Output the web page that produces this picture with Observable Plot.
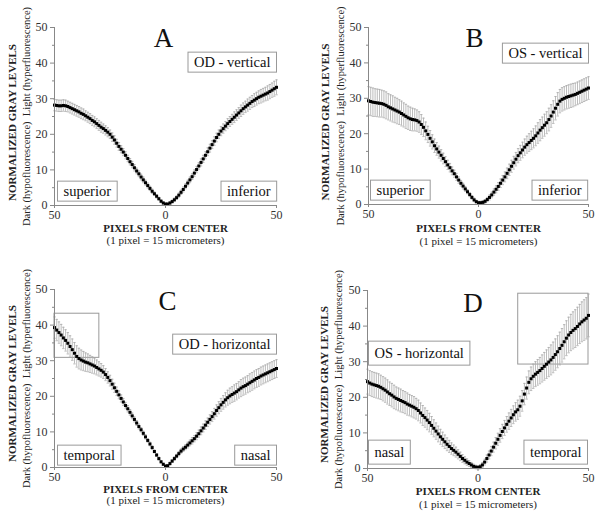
<!DOCTYPE html>
<html><head><meta charset="utf-8">
<script src="https://cdn.jsdelivr.net/npm/d3@7"></script>
<script src="https://cdn.jsdelivr.net/npm/@observablehq/plot@0.6"></script>
<style>
body{margin:0;background:#fff;}
#root{position:relative;width:600px;height:517px;overflow:hidden;background:#fff;}
.panel{position:absolute;}
.panel svg, .panel svg text{font-family:'Liberation Serif','Times New Roman',serif !important;}
</style></head><body><div id="root"></div>
<script>
// ---- data ----
const pixels = d3.range(-50, 51); // pixels from center, left side = -50
const xDomain = [-50, 50];
const yDomain = [0, 50];
const xTicks = [-50, 0, 50];
const yTicks = [0, 10, 20, 30, 40, 50];
const yMinorTicks = [5, 15, 25, 35, 45];

const panelLetters = ["A", "B", "C", "D"];
const eyeLabels = ["OD - vertical", "OS - vertical", "OD - horizontal", "OS - horizontal"];
const leftRegions = ["superior", "superior", "temporal", "nasal"];
const rightRegions = ["inferior", "inferior", "nasal", "temporal"];
const yTitle = "NORMALIZED GRAY LEVELS";
const ySubtitle = "Dark (hypofluorescence)\u00a0\u00a0Light (hyperfluorescence)";
const xTitle = "PIXELS FROM CENTER";
const xSubtitle = "(1 pixel = 15 micrometers)";

const odVertical = [
  28.2,28.1,28.0,28.0,28.1,28.0,27.8,27.5,27.2,26.9,
  26.6,26.3,25.9,25.6,25.2,24.8,24.4,23.9,23.5,23.0,
  22.5,22.0,21.6,21.1,20.6,20.0,19.2,18.4,17.5,16.6,
  15.8,15.0,14.1,13.2,12.3,11.5,10.6,9.7,8.9,8.0,
  7.2,6.4,5.6,4.8,4.0,3.3,2.6,1.9,1.2,0.7,
  0.4,
  0.4,0.7,1.1,1.6,2.2,2.9,3.7,4.5,5.4,6.3,
  7.2,8.1,9.1,10.1,11.1,12.1,13.1,14.1,15.1,16.1,
  17.1,18.1,19.1,20.0,20.9,21.6,22.3,23.0,23.6,24.2,
  24.8,25.4,26.0,26.6,27.2,27.7,28.2,28.7,29.2,29.6,
  30.0,30.4,30.7,31.0,31.3,31.6,32.0,32.4,32.8,33.2];
const odVerticalSD = [
  1.6,1.6,1.6,1.6,1.6,1.6,1.5,1.5,1.5,1.5,
  1.5,1.5,1.5,1.5,1.4,1.4,1.4,1.4,1.4,1.4,
  1.4,1.4,1.3,1.3,1.3,1.2,1.2,1.2,1.1,1.1,
  1.0,1.0,1.0,0.9,0.9,0.9,0.9,0.8,0.8,0.8,
  0.8,0.7,0.7,0.6,0.6,0.5,0.5,0.4,0.4,0.3,
  0.3,
  0.3,0.4,0.4,0.5,0.5,0.6,0.6,0.7,0.7,0.8,
  0.8,0.8,0.9,0.9,0.9,1.0,1.0,1.0,1.1,1.1,
  1.1,1.2,1.2,1.2,1.3,1.3,1.3,1.4,1.4,1.4,
  1.5,1.5,1.5,1.6,1.6,1.6,1.7,1.7,1.7,1.8,
  1.8,1.8,1.9,1.9,1.9,2.0,2.0,2.0,2.1,2.1];

const osVertical = [
  29.3,29.1,28.9,28.8,28.7,28.6,28.5,28.3,28.0,27.6,
  27.3,27.0,26.7,26.4,26.1,25.7,25.3,24.9,24.5,24.2,
  24.0,23.9,23.7,23.3,22.6,21.8,20.8,19.8,18.7,17.7,
  16.6,15.7,14.8,13.9,13.0,12.1,11.2,10.4,9.5,8.7,
  7.8,6.9,6.0,5.2,4.4,3.6,2.8,2.0,1.3,0.8,
  0.5,
  0.5,0.6,0.9,1.4,2.0,2.7,3.5,4.3,5.1,6.0,
  6.9,7.8,8.8,9.8,10.8,11.8,12.8,13.8,14.6,15.4,
  16.2,16.9,17.5,18.1,18.7,19.4,20.2,21.0,21.7,22.4,
  23.1,24.0,25.0,26.1,27.2,28.3,29.2,29.7,30.0,30.3,
  30.5,30.7,30.9,31.1,31.4,31.7,32.0,32.3,32.6,32.9];
const osVerticalSD = [
  4.0,4.0,4.0,3.9,3.9,3.9,3.8,3.8,3.8,3.7,
  3.7,3.7,3.6,3.6,3.5,3.5,3.4,3.4,3.3,3.3,
  3.2,3.1,3.0,2.9,2.8,2.6,2.5,2.3,2.2,2.0,
  1.9,1.8,1.7,1.6,1.5,1.4,1.3,1.2,1.1,1.0,
  1.0,0.9,0.8,0.8,0.7,0.6,0.6,0.5,0.5,0.4,
  0.4,
  0.4,0.5,0.5,0.6,0.7,0.8,0.9,1.0,1.1,1.2,
  1.3,1.4,1.5,1.6,1.7,1.8,1.9,2.0,2.1,2.2,
  2.3,2.4,2.5,2.6,2.7,2.8,2.9,3.0,3.0,3.1,
  3.1,3.2,3.2,3.2,3.3,3.3,3.3,3.3,3.3,3.3,
  3.3,3.3,3.3,3.2,3.2,3.2,3.2,3.2,3.2,3.2];

const odHorizontal = [
  39.3,38.6,37.9,37.2,36.4,35.7,34.9,34.0,33.1,32.1,
  31.2,30.6,30.2,29.9,29.6,29.4,29.1,28.8,28.5,28.1,
  27.7,27.3,26.8,26.1,25.3,24.4,23.4,22.4,21.4,20.4,
  19.4,18.4,17.4,16.5,15.5,14.5,13.5,12.5,11.5,10.6,
  9.6,8.6,7.6,6.6,5.6,4.5,3.5,2.5,1.6,0.9,
  0.4,
  0.5,1.1,1.8,2.5,3.2,3.9,4.6,5.2,5.7,6.3,
  6.9,7.5,8.1,8.8,9.5,10.3,11.1,11.9,12.7,13.5,
  14.3,15.1,16.0,16.8,17.6,18.3,19.0,19.6,20.1,20.5,
  20.9,21.3,21.8,22.3,22.7,23.0,23.4,23.8,24.2,24.6,
  25.0,25.3,25.7,26.0,26.3,26.6,26.9,27.2,27.5,27.8];
const odHorizontalSD = [
  3.0,3.0,3.0,3.0,3.0,3.0,3.0,3.0,3.0,3.0,
  3.0,2.9,2.8,2.7,2.6,2.5,2.4,2.3,2.2,2.1,
  2.0,1.9,1.8,1.7,1.6,1.5,1.4,1.3,1.2,1.1,
  1.0,1.0,0.9,0.9,0.8,0.8,0.7,0.7,0.7,0.6,
  0.6,0.6,0.5,0.5,0.5,0.4,0.4,0.4,0.3,0.3,
  0.3,
  0.3,0.4,0.4,0.5,0.5,0.6,0.6,0.7,0.7,0.8,
  0.8,0.9,0.9,1.0,1.0,1.1,1.1,1.2,1.2,1.3,
  1.4,1.5,1.6,1.7,1.8,1.9,2.0,2.1,2.2,2.2,
  2.3,2.3,2.3,2.4,2.4,2.4,2.4,2.5,2.5,2.5,
  2.5,2.5,2.5,2.5,2.5,2.5,2.5,2.5,2.5,2.5];

const osHorizontal = [
  24.4,24.0,23.7,23.5,23.3,23.1,22.8,22.4,22.0,21.5,
  21.0,20.6,20.1,19.7,19.4,19.1,18.8,18.5,18.1,17.8,
  17.5,17.2,16.8,16.3,15.6,14.9,14.3,13.6,12.9,12.1,
  11.3,10.5,9.7,8.9,8.2,7.5,6.8,6.2,5.6,5.1,
  4.6,4.0,3.4,2.8,2.3,1.8,1.4,1.0,0.6,0.4,
  0.3,
  0.5,1.0,1.8,2.8,3.8,4.9,6.0,7.1,8.2,9.3,
  10.4,11.4,12.4,13.3,14.2,15.1,15.9,16.5,17.5,19.0,
  20.9,22.6,24.2,25.2,25.9,26.5,27.0,27.5,28.1,28.7,
  29.3,29.9,30.5,31.2,32.0,32.8,33.7,34.6,35.6,36.6,
  37.5,38.2,38.8,39.3,39.9,40.6,41.2,41.7,42.2,43.0];
const osHorizontalSD = [
  3.5,3.5,3.5,3.5,3.5,3.5,3.4,3.4,3.4,3.4,
  3.3,3.3,3.3,3.2,3.2,3.2,3.1,3.1,3.1,3.0,
  3.0,3.0,2.9,2.9,2.8,2.8,2.7,2.7,2.6,2.5,
  2.4,2.3,2.2,2.1,2.0,1.9,1.8,1.7,1.6,1.5,
  1.4,1.3,1.2,1.1,1.0,0.9,0.8,0.7,0.6,0.5,
  0.5,
  0.6,0.7,0.8,1.0,1.1,1.3,1.4,1.6,1.7,1.9,
  2.0,2.1,2.2,2.3,2.4,2.5,2.6,2.7,2.8,2.9,
  3.0,3.1,3.2,3.3,3.4,3.5,3.6,3.7,3.8,3.9,
  4.0,4.1,4.2,4.3,4.4,4.5,4.6,4.7,4.8,4.9,
  5.0,5.1,5.2,5.3,5.4,5.5,5.6,5.7,5.8,6.0];

// highlighted regions (data units)
const highlightC = [{x1: -50, x2: -29.8, y1: 30.8, y2: 43.2}];
const highlightD = [{x1: 18.2, x2: 50, y1: 29.2, y2: 49.1}];

// ---- layout ----
const FONT = "'Liberation Serif', 'Times New Roman', serif";
const panels = [
  {left: 0, top: 0, height: 258, m: [27, 24, 53, 54], values: odVertical, sd: odVerticalSD, hl: [],
   letterDx: -2, letterDy: 0, eyeAnchor: "top-right", eyeDx: -6, eyeDy: 35,
   botDy: -14, leftDx: 9, rightDx: -6, padY: 3, yt1: -42, yt2: -28, ytDy: 6, xt1: 23, xt2: 35},
  {left: 300, top: 0, height: 258, m: [27, 12, 54, 68], values: osVertical, sd: osVerticalSD, hl: [],
   letterDx: -4, letterDy: 0, eyeAnchor: "top-right", eyeDx: -6, eyeDy: 26,
   botDy: -14, leftDx: 8, rightDx: -7, padY: 3, yt1: -43, yt2: -28, ytDy: 6, xt1: 24, xt2: 37},
  {left: 0, top: 258, height: 259, m: [31, 24, 50, 54], values: odHorizontal, sd: odHorizontalSD, hl: highlightC,
   letterDx: 2, letterDy: 1, eyeAnchor: "top-right", eyeDx: -6, eyeDy: 55,
   botDy: -12, leftDx: 9, rightDx: -6, padY: 3, yt1: -42, yt2: -28, ytDy: 5, xt1: 22, xt2: 33},
  {left: 300, top: 258, height: 259, m: [32, 12, 49, 67], values: osHorizontal, sd: osHorizontalSD, hl: highlightD,
   letterDx: -5, letterDy: 2, eyeAnchor: "top-left", eyeDx: 7, eyeDy: 63,
   botDy: -16, leftDx: 7, rightDx: -7, padY: 5, yt1: -43, yt2: -29, ytDy: 5, xt1: 23, xt2: 36}
];

const boxedTexts = new Set([...eyeLabels, ...leftRegions, ...rightRegions]);
const root = document.getElementById("root");

panels.forEach((p, k) => {
  const data = pixels.map((x, i) => ({x, y: p.values[i], e: p.sd[i]}));
  const errColor = "#ababab";
  const T = {fontFamily: FONT};
  const svg = Plot.plot({
    width: 300,
    height: p.height,
    marginTop: p.m[0], marginRight: p.m[1], marginBottom: p.m[2], marginLeft: p.m[3],
    style: `font-family: ${FONT}; background: transparent; color: #222; overflow: visible;`,
    x: {domain: xDomain, axis: null, label: null},
    y: {domain: yDomain, axis: null, label: null},
    marks: [
      Plot.rect(p.hl, {x1: "x1", x2: "x2", y1: "y1", y2: "y2", fill: "none", stroke: "#999", strokeWidth: 1}),
      Plot.ruleX(data, {x: "x", y1: d => d.y - d.e, y2: d => d.y + d.e, stroke: errColor, strokeWidth: 0.8}),
      Plot.link(data, {x1: d => d.x - 0.55, x2: d => d.x + 0.55, y1: d => d.y + d.e, y2: d => d.y + d.e, stroke: errColor, strokeWidth: 0.8}),
      Plot.link(data, {x1: d => d.x - 0.55, x2: d => d.x + 0.55, y1: d => d.y - d.e, y2: d => d.y - d.e, stroke: errColor, strokeWidth: 0.8}),
      Plot.dot(data, {x: "x", y: "y", symbol: "square", r: 1.7, fill: "#000"}),
      Plot.ruleX([xDomain[0]], {stroke: "#888"}),
      Plot.ruleY([yDomain[0]], {stroke: "#888"}),
      Plot.axisY(yTicks, {...T, tickSize: 4, tickPadding: 3, fontSize: 12, stroke: "#888", fill: "#333", label: null}),
      Plot.axisY(yMinorTicks, {tickSize: 2, tickFormat: () => "", stroke: "#888", label: null}),
      Plot.axisX(xTicks, {...T, tickSize: 3, tickPadding: 2, fontSize: 12, stroke: "#888", fill: "#333", label: null, tickFormat: d => Math.abs(d)}),
      // panel letter
      Plot.text([panelLetters[k]], {...T, text: d => d, frameAnchor: "top", lineAnchor: "top", dx: p.letterDx, dy: p.letterDy, fontSize: 27, fill: "#111"}),
      // boxed labels
      Plot.text([eyeLabels[k]], {...T, text: d => d, frameAnchor: p.eyeAnchor, lineAnchor: "middle",
        textAnchor: p.eyeAnchor.endsWith("right") ? "end" : "start", dx: p.eyeDx, dy: p.eyeDy, fontSize: 14.5, fill: "#111"}),
      Plot.text([leftRegions[k]], {...T, text: d => d, frameAnchor: "bottom-left", lineAnchor: "middle", textAnchor: "start",
        dx: p.leftDx, dy: p.botDy, fontSize: 14.5, fill: "#111"}),
      Plot.text([rightRegions[k]], {...T, text: d => d, frameAnchor: "bottom-right", lineAnchor: "middle", textAnchor: "end",
        dx: p.rightDx, dy: p.botDy, fontSize: 14.5, fill: "#111"}),
      // axis titles
      Plot.text([yTitle], {...T, text: d => d, frameAnchor: "left", rotate: -90, lineAnchor: "middle", textAnchor: "middle",
        dx: p.yt1, dy: p.ytDy, fontSize: 11, fontWeight: "bold", fill: "#222"}),
      Plot.text([ySubtitle], {...T, text: d => d, frameAnchor: "left", rotate: -90, lineAnchor: "middle", textAnchor: "middle",
        dx: p.yt2, dy: 0, fontSize: 10.5, fill: "#222"}),
      Plot.text([xTitle], {...T, text: d => d, frameAnchor: "bottom", lineAnchor: "middle", textAnchor: "middle",
        dy: p.xt1, fontSize: 11, fontWeight: "bold", fill: "#222"}),
      Plot.text([xSubtitle], {...T, text: d => d, frameAnchor: "bottom", lineAnchor: "middle", textAnchor: "middle",
        dy: p.xt2, fontSize: 11, fill: "#222"})
    ]
  });
  const div = document.createElement("div");
  div.className = "panel";
  div.style.left = p.left + "px";
  div.style.top = p.top + "px";
  div.appendChild(svg);
  root.appendChild(div);
  // draw frames around boxed labels
  svg.querySelectorAll("text").forEach(t => {
    if (!boxedTexts.has(t.textContent)) return;
    const b = t.getBBox();
    const r = document.createElementNS("http://www.w3.org/2000/svg", "rect");
    const padX = 6, padY = p.padY;
    r.setAttribute("x", b.x - padX);
    r.setAttribute("y", b.y - padY + 1);
    r.setAttribute("width", b.width + 2 * padX);
    r.setAttribute("height", b.height + 2 * padY - 2);
    r.setAttribute("fill", "#fff");
    r.setAttribute("stroke", "#999");
    r.setAttribute("stroke-width", "1");
    const tr = t.getAttribute("transform");
    if (tr) r.setAttribute("transform", tr);
    t.parentNode.insertBefore(r, t);
  });
});
</script></body></html>
